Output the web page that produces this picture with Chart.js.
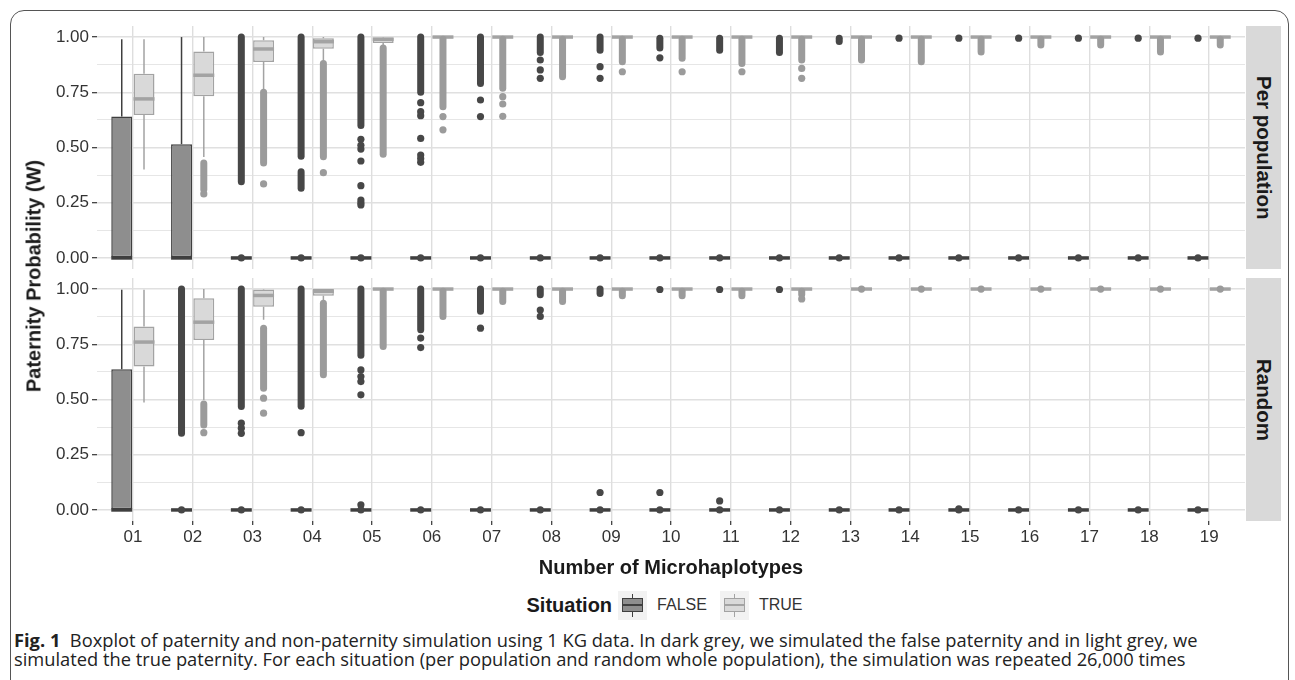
<!DOCTYPE html>
<html>
<head>
<meta charset="utf-8">
<script src="https://cdn.jsdelivr.net/npm/chart.js@4.4.0/dist/chart.umd.min.js"></script>
<style>
  html, body { margin: 0; padding: 0; background: #fff; }
  #fig { position: relative; width: 1295px; height: 680px; overflow: hidden; font-family: "Liberation Sans", Arial, sans-serif; color: #1a1a1a; }
  .frame { position: absolute; left: 10px; top: 10px; width: 1279px; height: 720px; border: 1.5px solid #555; border-radius: 14px; box-sizing: border-box; }
  .wrap { position: absolute; left: 0; width: 1295px; }
  #topWrap { top: 0; height: 275px; }
  #botWrap { top: 275px; height: 300px; }
  .strip { position: absolute; left: 1246px; width: 35px; background: #d9d9d9; display: flex; align-items: center; justify-content: center; }
  .strip span { writing-mode: vertical-rl; font-weight: bold; font-size: 20.5px; color: #1a1a1a; }
  #ytitle { position: absolute; left: 34px; top: 276px; transform: translate(-50%, -50%) rotate(-90deg); white-space: nowrap; font-weight: bold; font-size: 20px; }
  #xtitle { position: absolute; left: 97px; width: 1148px; top: 556px; text-align: center; font-weight: bold; font-size: 20px; }
  #legend { position: absolute; left: 97px; width: 1148px; top: 590px; height: 30px; display: flex; justify-content: center; align-items: center; font-size: 16px; }
  #legend .ttl { font-weight: bold; font-size: 20px; margin-right: 6px; }
  .key { position: relative; width: 29px; height: 29px; background: #f2f2f2; margin-right: 10px; }
  .key .wh { position: absolute; left: 13.75px; top: 3px; width: 1.5px; height: 23px; }
  .key .bx { position: absolute; left: 4px; top: 7.5px; width: 21px; height: 14px; box-sizing: border-box; border: 1.5px solid; }
  .key .md { position: absolute; left: 4px; top: 13px; width: 21px; height: 2.5px; }
  #legend .lab { margin-right: 13px; color: #333; }
  #caption { position: absolute; left: 14px; top: 630px; font-family: "Open Sans", "Noto Sans", sans-serif; font-size: 18.3px; line-height: 19px; color: #222; white-space: nowrap; }
</style>
</head>
<body>
<div id="fig">
  <div class="frame"></div>
  <div class="wrap" id="topWrap"><canvas id="topChart"></canvas></div>
  <div class="wrap" id="botWrap"><canvas id="botChart"></canvas></div>
  <div class="strip" style="top:26px;height:243px"><span>Per population</span></div>
  <div class="strip" style="top:278px;height:243px"><span>Random</span></div>
  <div id="ytitle">Paternity Probability (W)</div>
  <div id="xtitle">Number of Microhaplotypes</div>
  <div id="legend">
    <span class="ttl">Situation</span>
    <span class="key"><span class="wh" style="background:#3f3f3f"></span><span class="bx" style="background:#8e8e8e;border-color:#3f3f3f"></span><span class="md" style="background:#3f3f3f"></span></span>
    <span class="lab">FALSE</span>
    <span class="key"><span class="wh" style="background:#a3a3a3"></span><span class="bx" style="background:#d9d9d9;border-color:#a3a3a3"></span><span class="md" style="background:#a3a3a3"></span></span>
    <span class="lab">TRUE</span>
  </div>
  <div id="caption"><b>Fig. 1</b>&nbsp; Boxplot of paternity and non-paternity simulation using 1 KG data. In dark grey, we simulated the false paternity and in light grey, we<br>simulated the true paternity. For each situation (per population and random whole population), the simulation was repeated 26,000 times</div>
</div>
<script>
// 类别与刻度
const categories = ['01','02','03','04','05','06','07','08','09','10','11','12','13','14','15','16','17','18','19'];
const yTickValues = [0, 0.125, 0.25, 0.375, 0.5, 0.625, 0.75, 0.875, 1];
const yTickLabels = ['0.00', '', '0.25', '', '0.50', '', '0.75', '', '1.00'];

// 箱线数据: [下须, Q1, 中位数, Q3, 上须]
// 密集离群点列: [起, 止]; 单个离群点: 值

// Per population, FALSE
const popFalseBox = [
  [0, 0, 0, 0.64, 0.99], [0, 0, 0, 0.515, 1],
  [0,0,0,0,0], [0,0,0,0,0], [0,0,0,0,0], [0,0,0,0,0], [0,0,0,0,0], [0,0,0,0,0], [0,0,0,0,0],
  [0,0,0,0,0], [0,0,0,0,0], [0,0,0,0,0], [0,0,0,0,0], [0,0,0,0,0], [0,0,0,0,0], [0,0,0,0,0],
  [0,0,0,0,0], [0,0,0,0,0], [0,0,0,0,0]
];
const popFalseRuns = [
  [], [], [[0.345, 1]], [[0.46, 1], [0.315, 0.39]], [[0.6, 1]], [[0.75, 1]], [[0.79, 1]],
  [[0.93, 1]], [[0.94, 1]], [[0.95, 0.995]], [[0.94, 0.995]], [[0.93, 0.995]], [[0.98, 0.995]],
  [], [], [], [], [], []
];
const popFalsePts = [
  [], [], [0], [0], [0.537, 0.51, 0.493, 0.439, 0.327, 0.262, 0.25, 0.24, 0],
  [0.703, 0.662, 0.644, 0.541, 0.466, 0.45, 0.433, 0], [0.715, 0.64, 0], [0.896, 0.851, 0.813, 0],
  [0.866, 0.813, 0], [0.906, 0], [0], [0], [0],
  [0.995, 0], [0.995, 0], [0.995, 0], [0.995, 0], [0.995, 0], [0.995, 0]
];

// Per population, TRUE
const popTrueBox = [
  [0.40, 0.647, 0.72, 0.834, 0.99], [0.457, 0.732, 0.827, 0.935, 1], [0.76, 0.887, 0.946, 0.985, 1],
  [0.89, 0.947, 0.979, 0.995, 1], [0.955, 0.973, 0.99, 0.998, 1], [0.99, 0.997, 1, 1, 1],
  [1,1,1,1,1], [1,1,1,1,1], [1,1,1,1,1], [1,1,1,1,1], [1,1,1,1,1], [1,1,1,1,1], [1,1,1,1,1],
  [1,1,1,1,1], [1,1,1,1,1], [1,1,1,1,1], [1,1,1,1,1], [1,1,1,1,1], [1,1,1,1,1]
];
const popTrueRuns = [
  [], [[0.31, 0.43]], [[0.43, 0.75]], [[0.458, 0.88]], [[0.47, 0.95]], [[0.685, 0.99]],
  [[0.768, 0.99]], [[0.82, 0.99]], [[0.888, 0.99]], [[0.904, 0.99]], [[0.88, 0.99]],
  [[0.896, 0.99]], [[0.896, 0.99]], [[0.888, 0.99]], [[0.932, 0.99]], [[0.964, 0.99]],
  [[0.964, 0.99]], [[0.932, 0.99]], [[0.964, 0.99]]
];
const popTruePts = [
  [], [0.29], [0.335], [0.386], [], [0.64, 0.58], [0.73, 0.697, 0.641], [], [0.843], [0.843],
  [0.843], [0.858, 0.813], [], [], [], [], [], [], []
];

// Random, FALSE
const randFalseBox = [
  [0, 0, 0, 0.637, 0.997],
  [0,0,0,0,0], [0,0,0,0,0], [0,0,0,0,0], [0,0,0,0,0], [0,0,0,0,0], [0,0,0,0,0], [0,0,0,0,0],
  [0,0,0,0,0], [0,0,0,0,0], [0,0,0,0,0], [0,0,0,0,0], [0,0,0,0,0], [0,0,0,0,0], [0,0,0,0,0],
  [0,0,0,0,0], [0,0,0,0,0], [0,0,0,0,0], [0,0,0,0,0]
];
const randFalseRuns = [
  [], [[0.347, 1]], [[0.468, 1]], [[0.47, 1]], [[0.70, 1]], [[0.816, 1]], [[0.90, 1]],
  [[0.974, 1]], [[0.98, 1]], [], [], [], [], [], [], [], [], [], []
];
const randFalsePts = [
  [], [0], [0.393, 0.37, 0.347, 0], [0.35, 0], [0.634, 0.604, 0.581, 0.521, 0.023, 0],
  [0.778, 0.735, 0], [0.823, 0], [0.905, 0.876, 0], [0.079, 0], [0.998, 0.079, 0],
  [0.998, 0.041, 0], [0.998, 0], [0], [0], [0.005, 0], [0], [0], [0], [0]
];

// Random, TRUE
const randTrueBox = [
  [0.486, 0.649, 0.76, 0.831, 0.997], [0.498, 0.769, 0.85, 0.958, 1], [0.861, 0.92, 0.971, 0.998, 1],
  [0.944, 0.97, 0.99, 1, 1],
  [1,1,1,1,1], [1,1,1,1,1], [1,1,1,1,1], [1,1,1,1,1], [1,1,1,1,1], [1,1,1,1,1], [1,1,1,1,1],
  [1,1,1,1,1], [1,1,1,1,1], [1,1,1,1,1], [1,1,1,1,1], [1,1,1,1,1], [1,1,1,1,1], [1,1,1,1,1],
  [1,1,1,1,1]
];
const randTrueRuns = [
  [], [[0.385, 0.48]], [[0.551, 0.823]], [[0.612, 0.936]], [[0.74, 0.99]], [[0.876, 0.99]],
  [[0.944, 0.99]], [[0.944, 0.99]], [[0.97, 0.99]], [[0.97, 0.99]], [[0.97, 0.99]],
  [[0.975, 0.99]], [], [], [], [], [], [], []
];
const randTruePts = [
  [], [0.35], [0.506, 0.438], [], [], [], [], [], [], [], [], [0.955],
  [1], [1], [1], [1], [1], [1], [1]
];

// 颜色
const darkStyle = { fill: '#8e8e8e', line: '#3f3f3f', point: '#474747' };
const lightStyle = { fill: '#d9d9d9', line: '#a3a3a3', point: '#9b9b9b' };
const FONT = '"Liberation Sans", Arial, sans-serif';

// 须线、中位线和离群点的绘制插件
const boxParts = {
  id: 'boxParts',
  beforeDatasetsDraw(chart) {
    const ctx = chart.ctx, y = chart.scales.y;
    ctx.save();
    chart.data.datasets.forEach((d, di) => {
      chart.getDatasetMeta(di).data.forEach((bar, i) => {
        const b = d.box[i];
        ctx.strokeStyle = d.st.line;
        ctx.lineWidth = 1.5;
        ctx.beginPath();
        ctx.moveTo(bar.x, y.getPixelForValue(b[0]));
        ctx.lineTo(bar.x, y.getPixelForValue(b[1]));
        ctx.moveTo(bar.x, y.getPixelForValue(b[3]));
        ctx.lineTo(bar.x, y.getPixelForValue(b[4]));
        ctx.stroke();
      });
    });
    ctx.restore();
  },
  afterDatasetsDraw(chart) {
    const ctx = chart.ctx, y = chart.scales.y;
    ctx.save();
    chart.data.datasets.forEach((d, di) => {
      chart.getDatasetMeta(di).data.forEach((bar, i) => {
        // 中位线
        const ym = y.getPixelForValue(d.box[i][2]);
        ctx.strokeStyle = d.st.line;
        ctx.lineWidth = 3.5;
        ctx.lineCap = 'butt';
        ctx.beginPath();
        ctx.moveTo(bar.x - bar.width / 2, ym);
        ctx.lineTo(bar.x + bar.width / 2, ym);
        ctx.stroke();
        // 密集离群点列
        ctx.strokeStyle = d.st.point;
        ctx.lineWidth = 7;
        ctx.lineCap = 'round';
        d.runs[i].forEach(r => {
          ctx.beginPath();
          ctx.moveTo(bar.x, y.getPixelForValue(r[0]));
          ctx.lineTo(bar.x, y.getPixelForValue(r[1]));
          ctx.stroke();
        });
        // 单个离群点
        ctx.fillStyle = d.st.point;
        d.pts[i].forEach(v => {
          ctx.beginPath();
          ctx.arc(bar.x, y.getPixelForValue(v), 3.6, 0, Math.PI * 2);
          ctx.fill();
        });
      });
    });
    ctx.restore();
  }
};

function boxDataset(label, box, runs, pts, st) {
  return {
    label,
    data: box.map((b, i) => ({ x: i, y: [b[1], b[3]] })),
    backgroundColor: st.fill,
    borderColor: st.line,
    borderWidth: 1.5,
    borderSkipped: false,
    categoryPercentage: 0.745,
    barPercentage: 0.94,
    box, runs, pts, st
  };
}

function makePanel(canvasId, falseSet, trueSet, showX, padding) {
  return new Chart(document.getElementById(canvasId), {
    type: 'bar',
    data: {
      datasets: [
        boxDataset('FALSE', falseSet[0], falseSet[1], falseSet[2], darkStyle),
        boxDataset('TRUE', trueSet[0], trueSet[1], trueSet[2], lightStyle)
      ]
    },
    options: {
      responsive: true,
      maintainAspectRatio: false,
      animation: false,
      layout: { padding },
      plugins: { legend: { display: false }, tooltip: { enabled: false } },
      scales: {
        x: {
          type: 'linear',
          min: -0.6,
          max: 18.6,
          offset: false,
          afterBuildTicks: s => { s.ticks = categories.map((c, i) => ({ value: i })); },
          afterFit: s => { s.height = showX ? 30 : 0; s.paddingLeft = 0; s.paddingRight = 0; },
          ticks: {
            display: showX,
            autoSkip: false,
            maxRotation: 0,
            padding: 2,
            callback: v => categories[v],
            font: { family: FONT, size: 17 },
            color: '#333'
          },
          grid: { color: '#dedede', lineWidth: 1.4, offset: false, drawTicks: showX, tickLength: 4, tickColor: '#333', tickWidth: 1.2 },
          border: { display: false }
        },
        y: {
          min: -0.05,
          max: 1.05,
          afterBuildTicks: s => { s.ticks = yTickValues.map(v => ({ value: v })); },
          afterFit: s => { s.width = 97; s.paddingTop = 0; s.paddingBottom = 0; },
          ticks: {
            autoSkip: false,
            padding: 3,
            callback: (v, i) => yTickLabels[i],
            font: { family: FONT, size: 17 },
            color: '#333'
          },
          grid: {
            color: '#e0e0e0',
            lineWidth: c => (c.index % 2 ? 0.8 : 1.4),
            tickLength: 5,
            tickWidth: 1.2,
            tickColor: c => (c.index % 2 ? 'rgba(0,0,0,0)' : '#333')
          },
          border: { display: false }
        }
      }
    },
    plugins: [boxParts]
  });
}

makePanel('topChart',
  [popFalseBox, popFalseRuns, popFalsePts],
  [popTrueBox, popTrueRuns, popTruePts],
  false, { left: 0, top: 26, right: 50, bottom: 6 });

makePanel('botChart',
  [randFalseBox, randFalseRuns, randFalsePts],
  [randTrueBox, randTrueRuns, randTruePts],
  true, { left: 0, top: 3, right: 50, bottom: 24 });
</script>
</body>
</html>
